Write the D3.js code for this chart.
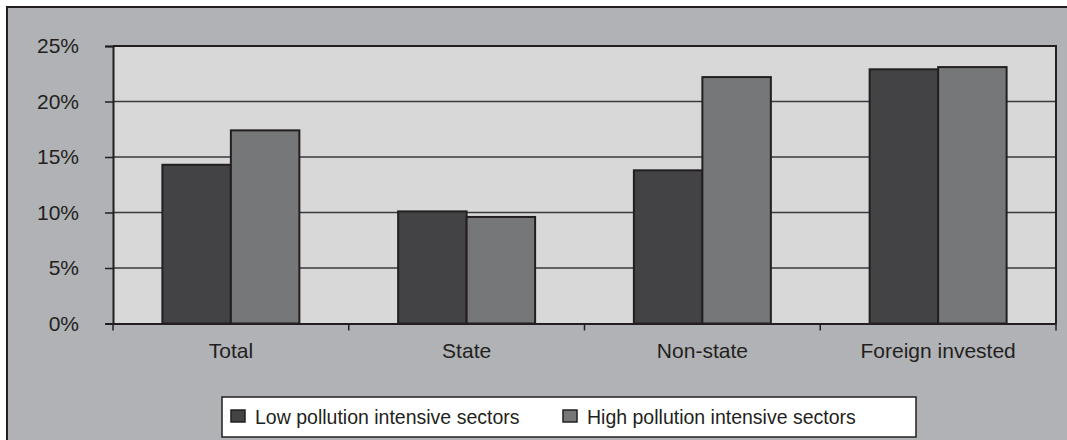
<!DOCTYPE html>
<html>
<head>
<meta charset="utf-8">
<script src="https://cdn.jsdelivr.net/npm/d3@7"></script>
<style>
  html, body { margin: 0; padding: 0; background: #ffffff; }
  svg { display: block; }
  text { font-family: "Liberation Sans", Arial, sans-serif; fill: #231f20; }
</style>
</head>
<body>
<svg id="chart" width="1067" height="440"></svg>
<script>
const categories = ["Total", "State", "Non-state", "Foreign invested"];
const seriesNames = ["Low pollution intensive sectors", "High pollution intensive sectors"];
const lowValues = [14.3, 10.1, 13.8, 22.9];
const highValues = [17.4, 9.6, 22.2, 23.1];
const yTicks = [0, 5, 10, 15, 20, 25];
const colors = ["#434345", "#767779"];

(function () {
const svg = d3.select("#chart");
const W = 1067, H = 440;
const pL = 113, pR = 1056, pT = 46, pB = 323.5;
const ink = "#231f20";
const axisFont = 21;

// outer panel
svg.append("rect").attr("x", 7).attr("y", 7).attr("width", W + 10).attr("height", H + 10)
  .attr("fill", "#b0b2b5").attr("stroke", ink).attr("stroke-width", 2);

// plot area
svg.append("rect").attr("x", pL).attr("y", pT).attr("width", pR - pL).attr("height", pB - pT)
  .attr("fill", "#d7d8d7");

const y = d3.scaleLinear().domain([0, 25]).range([pB, pT]);
const x0 = d3.scaleBand().domain(categories).range([pL, pR]).paddingInner(0.419).paddingOuter(0.2095);
const x1 = d3.scaleBand().domain(seriesNames).range([0, x0.bandwidth()]);

// gridlines
svg.append("g").selectAll("line").data(yTicks.filter(t => t > 0)).join("line")
  .attr("x1", pL).attr("x2", pR).attr("y1", d => y(d)).attr("y2", d => y(d))
  .attr("stroke", "#3a3a3c").attr("stroke-width", 1.5);

// bars
const data = categories.map((c, i) => ({ c, vals: [lowValues[i], highValues[i]] }));
const groups = svg.append("g").selectAll("g").data(data).join("g")
  .attr("transform", d => `translate(${x0(d.c)},0)`);
groups.selectAll("rect").data(d => d.vals.map((v, j) => ({ v, s: seriesNames[j], j }))).join("rect")
  .attr("x", d => x1(d.s)).attr("width", x1.bandwidth())
  .attr("y", d => y(d.v)).attr("height", d => y(0) - y(d.v))
  .attr("fill", d => colors[d.j]).attr("stroke", ink).attr("stroke-width", 2);

// plot border top/right
svg.append("path").attr("d", `M${pL},${pT}H${pR}V${pB}`)
  .attr("fill", "none").attr("stroke", ink).attr("stroke-width", 2);

// y axis
const yAxis = d3.axisLeft(y).tickValues(yTicks).tickFormat(d => d + "%").tickSize(8).tickPadding(26);
const gy = svg.append("g").attr("transform", `translate(${pL},0)`).call(yAxis);
gy.select(".domain").attr("stroke", ink).attr("stroke-width", 2);
gy.selectAll(".tick line").attr("stroke", ink).attr("stroke-width", 1.5);
gy.selectAll(".tick text").attr("font-size", axisFont).attr("fill", ink)
  .attr("font-family", '"Liberation Sans", Arial, sans-serif');

// x axis
const boundaries = categories.map(c => x0(c) - x0.step() * x0.paddingInner() / 2).concat([pR]);
const xAxis = d3.axisBottom(x0).tickSize(0).tickPadding(20);
const gx = svg.append("g").attr("transform", `translate(0,${pB})`).call(xAxis);
gx.select(".domain").attr("stroke", ink).attr("stroke-width", 2);
gx.selectAll(".tick text").attr("font-size", axisFont).attr("fill", ink)
  .attr("font-family", '"Liberation Sans", Arial, sans-serif');
svg.append("g").selectAll("line").data(boundaries).join("line")
  .attr("x1", d => d).attr("x2", d => d).attr("y1", pB).attr("y2", pB + 7)
  .attr("stroke", ink).attr("stroke-width", 1.5);

// legend
const lg = svg.append("g");
lg.append("rect").attr("x", 222).attr("y", 397).attr("width", 694).attr("height", 40)
  .attr("fill", "#ffffff").attr("stroke", ink).attr("stroke-width", 1.5);
const legendX = [231, 563];
seriesNames.forEach((s, i) => {
  lg.append("rect").attr("x", legendX[i]).attr("y", 410).attr("width", 14).attr("height", 12)
    .attr("fill", colors[i]).attr("stroke", ink).attr("stroke-width", 1.5);
  lg.append("text").attr("x", legendX[i] + 24).attr("y", 424).attr("font-size", 19.5).text(s);
});
})();
</script>
</body>
</html>
